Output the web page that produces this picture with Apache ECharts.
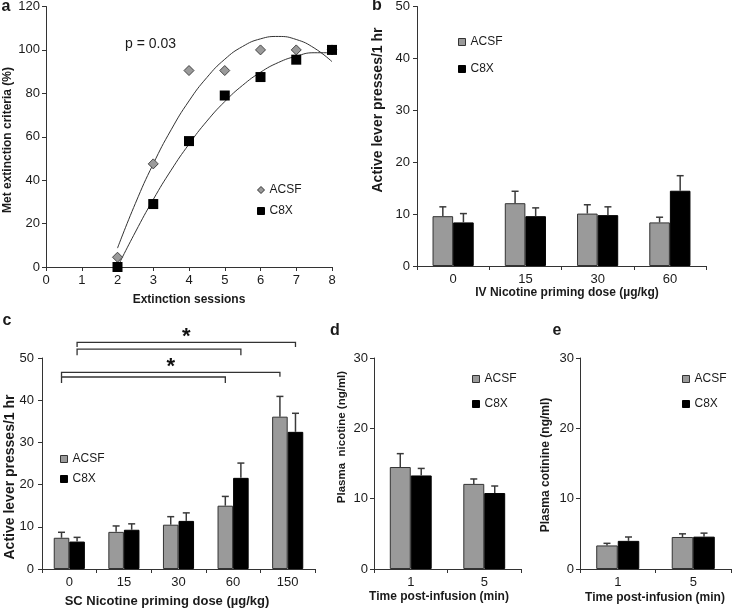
<!DOCTYPE html>
<html>
<head>
<meta charset="utf-8">
<script src="https://cdn.jsdelivr.net/npm/echarts@6/dist/echarts.min.js"></script>
<style>
  html, body { margin: 0; padding: 0; background: #fff; }
  #chart { width: 732px; height: 612px; }
</style>
</head>
<body>
<div id="chart"></div>
<script>
// ---------------- DATA ----------------
// Panel a: % rats meeting extinction criteria per session
const aSessions = [2, 3, 4, 5, 6, 7, 8];
const aACSF = [4.5, 47.5, 90.5, 90.5, 100, 100, 100];
const aC8X  = [0, 29, 58, 79, 87.5, 95.5, 100];
// Trend curves
const aFitX    = [2, 2.5, 3, 3.5, 4, 4.5, 5, 5.5, 6, 6.5, 7, 7.5, 8];
const aFitACSF = [8.7, 29.3, 47.5, 63.2, 76.5, 87.3, 95.7, 101.6, 105.1, 106.2, 104.8, 100.9, 94.6];
const aFitC8X  = [0, 16.1, 31.1, 44.6, 56.6, 67.2, 76.2, 83.7, 89.7, 94.2, 97.1, 98.7, 98.7];
const aPText = 'p = 0.03';

// Panel b: IV nicotine priming
const bDoses = ['0', '15', '30', '60'];
const bACSF = [9.6, 12.1, 10.1, 8.4];
const bACSFsem = [1.8, 2.3, 1.7, 1.0];
const bC8X = [8.4, 9.6, 9.8, 14.5];
const bC8Xsem = [1.7, 1.6, 1.6, 2.9];

// Panel c: SC nicotine priming
const cDoses = ['0', '15', '30', '60', '150'];
const cACSF = [7.4, 8.8, 10.5, 15.0, 36.1];
const cACSFsem = [1.3, 1.4, 1.9, 2.2, 4.8];
const cC8X = [6.5, 9.3, 11.4, 21.6, 32.5];
const cC8Xsem = [1.0, 1.4, 1.9, 3.5, 4.4];
// significance brackets: [side(-1 ACSF, +1 C8X), fromIndex, toIndex, level, star]
const cBrackets = [
  [-1, 0, 4, 46.6, 1],
  [-1, 0, 3, 45.5, 0],
  [ 1, 0, 4, 53.7, 1],
  [ 1, 0, 3, 52.1, 0]
];

// Panel d: plasma nicotine
const dTimes = ['1', '5'];
const dACSF = [14.5, 12.1];
const dACSFsem = [1.9, 0.7];
const dC8X = [13.3, 10.8];
const dC8Xsem = [1.0, 1.0];

// Panel e: plasma cotinine
const eTimes = ['1', '5'];
const eACSF = [3.35, 4.55];
const eACSFsem = [0.3, 0.45];
const eC8X = [4.0, 4.6];
const eC8Xsem = [0.55, 0.5];

// ---------------- STYLE ----------------
const FF = '"Liberation Sans", Arial, Helvetica, sans-serif';
const AX = '#333';
const TXT = '#1a1a1a';
const GRAY = '#9a9a9a';
const GAP = 0.43;

const chart = echarts.init(document.getElementById('chart'), null, { renderer: 'canvas' });

function valueAxis(gridIndex, min, max, interval, margin) {
  return {
    type: 'value', gridIndex, min, max, interval,
    axisLine: { show: true, lineStyle: { color: AX, width: 1 } },
    axisTick: { show: true, inside: false, length: 4, lineStyle: { color: AX, width: 1 } },
    splitLine: { show: false },
    axisLabel: { color: TXT, fontSize: 13, fontFamily: FF, margin: margin }
  };
}
function catAxis(gridIndex, data) {
  return {
    type: 'category', gridIndex, data,
    axisLine: { show: true, lineStyle: { color: AX, width: 1 } },
    axisTick: { show: true, inside: false, length: 4, alignWithLabel: false, lineStyle: { color: AX, width: 1 } },
    splitLine: { show: false },
    axisLabel: { color: TXT, fontSize: 13, fontFamily: FF, margin: 7 }
  };
}

function barSeries(name, axisIdx, data, isGray) {
  return {
    type: 'bar', name, xAxisIndex: axisIdx, yAxisIndex: axisIdx, data,
    barGap: '0%', barCategoryGap: (GAP * 100) + '%',
    itemStyle: isGray ? { color: GRAY, borderColor: '#333', borderWidth: 1 }
                      : { color: '#000', borderColor: '#000', borderWidth: 1 },
    emphasis: { disabled: true },
    z: 2
  };
}

function errSeries(axisIdx, means, sems, side) {
  return {
    type: 'custom', xAxisIndex: axisIdx, yAxisIndex: axisIdx,
    data: means.map((m, i) => [i, m, m + sems[i]]),
    z: 5, silent: true,
    renderItem: function (params, api) {
      const cat = api.value(0);
      const p0 = api.coord([cat, api.value(1)]);
      const p1 = api.coord([cat, api.value(2)]);
      const bandW = api.size([1, 0])[0];
      const barW = bandW * (1 - GAP) / 2;
      const x = p0[0] + side * barW / 2;
      const st = { stroke: '#3a3a3a', lineWidth: 1.5 };
      return {
        type: 'group',
        children: [
          { type: 'line', shape: { x1: x, y1: p0[1], x2: x, y2: p1[1] }, style: st },
          { type: 'line', shape: { x1: x - 3.5, y1: p1[1], x2: x + 3.5, y2: p1[1] }, style: st }
        ]
      };
    }
  };
}

function bracketSeries(axisIdx, brackets) {
  return {
    type: 'custom', xAxisIndex: axisIdx, yAxisIndex: axisIdx,
    data: brackets, z: 6, silent: true, clip: false,
    renderItem: function (params, api) {
      const side = api.value(0), from = api.value(1), to = api.value(2), lvl = api.value(3), star = api.value(4);
      const pa = api.coord([from, lvl]);
      const pb = api.coord([to, lvl]);
      const bandW = api.size([1, 0])[0];
      const barW = bandW * (1 - GAP) / 2;
      const x1 = pa[0] + side * barW / 2;
      const x2 = pb[0] + side * barW / 2;
      const y = pa[1];
      const leg = star ? 4.5 : 6;
      const st = { stroke: '#333', lineWidth: 1.3, fill: null };
      const children = [
        { type: 'polyline', shape: { points: [[x1, y + leg], [x1, y], [x2, y], [x2, y + leg]] }, style: st }
      ];
      if (star) {
        children.push({
          type: 'text',
          style: { text: '*', x: (x1 + x2) / 2, y: y - 5, font: 'bold 22px ' + FF, fill: '#111',
                   align: 'center', verticalAlign: 'middle', textAlign: 'center', textVerticalAlign: 'middle' }
        });
      }
      return { type: 'group', children };
    }
  };
}

function legendItem(name, gray, icon) {
  return {
    name, icon: icon || 'rect',
    itemStyle: gray ? { color: GRAY, borderColor: '#333', borderWidth: 1 } : { color: '#000', borderColor: '#000', borderWidth: 1 }
  };
}
function legend(left, top, gap, aIcons) {
  return {
    orient: 'vertical', left, top, itemGap: gap, padding: 0,
    itemWidth: 7, itemHeight: 7, selectedMode: false,
    textStyle: { color: TXT, fontSize: 12, fontFamily: FF, lineHeight: 14 },
    data: [legendItem('ACSF', true, aIcons ? 'diamond' : 'rect'), legendItem('C8X', false, 'rect')]
  };
}

function label(text, x, y, opts) {
  opts = opts || {};
  return {
    type: 'text', x, y, rotation: opts.rot ? Math.PI / 2 : 0, silent: true,
    style: {
      text, font: (opts.weight || 'bold') + ' ' + (opts.size || 12) + 'px ' + FF, fill: TXT,
      align: opts.align || 'center', verticalAlign: 'middle',
      textAlign: opts.align || 'center', textVerticalAlign: 'middle'
    }
  };
}

const option = {
  animation: false,
  backgroundColor: '#fff',
  grid: [
    { left: 46, top: 6, width: 286, height: 261 },   // a
    { left: 417, top: 5, width: 289, height: 261 },  // b
    { left: 42, top: 358, width: 273, height: 211 }, // c
    { left: 374, top: 358, width: 147, height: 211 },// d
    { left: 580, top: 358, width: 151, height: 211 } // e
  ],
  xAxis: [
    valueAxis(0, 0, 8, 1, 7),
    catAxis(1, bDoses),
    catAxis(2, cDoses),
    catAxis(3, dTimes),
    catAxis(4, eTimes)
  ],
  yAxis: [
    valueAxis(0, 0, 120, 20, 6),
    valueAxis(1, 0, 50, 10, 7),
    valueAxis(2, 0, 50, 10, 8),
    valueAxis(3, 0, 30, 10, 6),
    valueAxis(4, 0, 30, 10, 6)
  ],
  legend: [
    legend(257, 183, 7, true),
    legend(458, 35, 13, false),
    legend(60, 452, 6, false),
    legend(472, 372, 11, false),
    legend(682, 372, 11, false)
  ],
  series: [
    // panel a
    { type: 'line', name: 'ACSF fit', xAxisIndex: 0, yAxisIndex: 0, smooth: true, showSymbol: false, symbol: 'none',
      data: aFitX.map((x, i) => [x, aFitACSF[i]]), lineStyle: { color: '#333', width: 1 }, silent: true, z: 1 },
    { type: 'line', name: 'C8X fit', xAxisIndex: 0, yAxisIndex: 0, smooth: true, showSymbol: false, symbol: 'none',
      data: aFitX.map((x, i) => [x, aFitC8X[i]]), lineStyle: { color: '#333', width: 1 }, silent: true, z: 1 },
    { type: 'scatter', name: 'ACSF', xAxisIndex: 0, yAxisIndex: 0, symbol: 'diamond', symbolSize: 10,
      data: aSessions.map((x, i) => [x, aACSF[i]]),
      itemStyle: { color: GRAY, borderColor: '#444', borderWidth: 1, opacity: 1 }, z: 3 },
    { type: 'scatter', name: 'C8X', xAxisIndex: 0, yAxisIndex: 0, symbol: 'rect', symbolSize: 10,
      data: aSessions.map((x, i) => [x, aC8X[i]]),
      itemStyle: { color: '#000', opacity: 1 }, z: 4 },
    // panel b
    barSeries('ACSF', 1, bACSF, true),
    barSeries('C8X', 1, bC8X, false),
    errSeries(1, bACSF, bACSFsem, -1),
    errSeries(1, bC8X, bC8Xsem, 1),
    // panel c
    barSeries('ACSF', 2, cACSF, true),
    barSeries('C8X', 2, cC8X, false),
    errSeries(2, cACSF, cACSFsem, -1),
    errSeries(2, cC8X, cC8Xsem, 1),
    bracketSeries(2, cBrackets),
    // panel d
    barSeries('ACSF', 3, dACSF, true),
    barSeries('C8X', 3, dC8X, false),
    errSeries(3, dACSF, dACSFsem, -1),
    errSeries(3, dC8X, dC8Xsem, 1),
    // panel e
    barSeries('ACSF', 4, eACSF, true),
    barSeries('C8X', 4, eC8X, false),
    errSeries(4, eACSF, eACSFsem, -1),
    errSeries(4, eC8X, eC8Xsem, 1)
  ],
  graphic: [
    // panel letters
    label('a', 6, 7, { size: 16 }),
    label('b', 377, 6, { size: 16 }),
    label('c', 7, 321, { size: 16 }),
    label('d', 335, 331, { size: 16 }),
    label('e', 557, 331, { size: 16 }),
    // p value
    label(aPText, 125, 44, { size: 14, weight: 'normal', align: 'left' }),
    // x axis titles
    label('Extinction sessions', 189, 300),
    label('IV Nicotine priming dose (µg/kg)', 567, 293),
    label('SC Nicotine priming dose (µg/kg)', 167, 601, { size: 13 }),
    label('Time post-infusion (min)', 439, 597),
    label('Time post-infusion (min)', 655, 598),
    // y axis titles
    label('Met extinction criteria (%)', 8, 140, { rot: true }),
    label('Active lever presses/1 hr', 378, 110, { rot: true, size: 14 }),
    label('Active lever presses/1 hr', 10, 477, { rot: true, size: 14 }),
    label('Plasma  nicotine (ng/ml)', 342, 437, { rot: true, size: 11.5 }),
    label('Plasma cotinine (ng/ml)', 546, 465, { rot: true })
  ]
};
chart.setOption(option);
</script>
</body>
</html>
